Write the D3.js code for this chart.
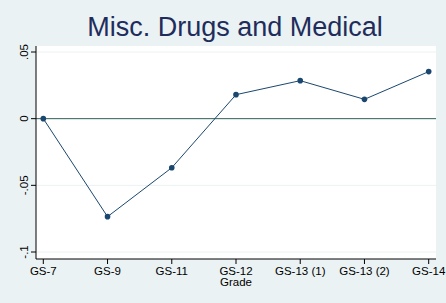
<!DOCTYPE html>
<html>
<head>
<meta charset="utf-8">
<script src="https://cdn.jsdelivr.net/npm/d3@7"></script>
<style>
  body { margin: 0; background: #eaf2f3; }
  svg { display: block; font-family: "Liberation Sans", Arial, sans-serif; }
</style>
</head>
<body>
<svg id="chart" width="446" height="303"></svg>
<script>
const grades = ["GS-7", "GS-9", "GS-11", "GS-12", "GS-13 (1)", "GS-13 (2)", "GS-14"];
const values = [0, -0.0735, -0.0368, 0.018, 0.0285, 0.0145, 0.0353];
const yTicks = [-0.1, -0.05, 0, 0.05];
const yTickLabels = ["-.1", "-.05", "0", ".05"];

const svg = d3.select("#chart");
const width = 446;
const height = 303;

// plot area (white box)
const box = { left: 36, right: 436, top: 46, bottom: 259 };

const x = d3.scaleLinear().domain([0, grades.length - 1]).range([43.3, 428.7]);
const y = d3.scaleLinear().domain([-0.1, 0.05]).range([252, 52]);

svg.append("rect")
  .attr("width", width)
  .attr("height", height)
  .attr("fill", "#eaf2f3");

svg.append("rect")
  .attr("x", box.left)
  .attr("y", box.top)
  .attr("width", box.right - box.left)
  .attr("height", box.bottom - box.top)
  .attr("fill", "#ffffff");

// gridlines
svg.append("g")
  .selectAll("line")
  .data(yTicks.filter((d) => d !== 0))
  .join("line")
  .attr("x1", box.left)
  .attr("x2", box.right)
  .attr("y1", (d) => y(d))
  .attr("y2", (d) => y(d))
  .attr("stroke", "#eaf2f3")
  .attr("stroke-width", 1);

// zero reference line
svg.append("line")
  .attr("x1", box.left)
  .attr("x2", box.right)
  .attr("y1", y(0))
  .attr("y2", y(0))
  .attr("stroke", "#2f5f5a")
  .attr("stroke-width", 1);

// title
svg.append("text")
  .attr("x", 235)
  .attr("y", 36)
  .attr("text-anchor", "middle")
  .attr("font-size", 27)
  .attr("fill", "#1e2d5c")
  .text("Misc. Drugs and Medical");

// y axis
const yAxis = svg.append("g");
yAxis.append("line")
  .attr("x1", box.left).attr("x2", box.left)
  .attr("y1", box.top).attr("y2", box.bottom)
  .attr("stroke", "#000").attr("stroke-width", 1);
yAxis.selectAll("line.tick")
  .data(yTicks)
  .join("line")
  .attr("class", "tick")
  .attr("x1", box.left - 5).attr("x2", box.left)
  .attr("y1", (d) => y(d)).attr("y2", (d) => y(d))
  .attr("stroke", "#000");
yAxis.selectAll("text")
  .data(yTicks)
  .join("text")
  .attr("transform", (d) => `translate(28,${y(d)}) rotate(-90)`)
  .attr("text-anchor", "middle")
  .attr("font-size", 11.5)
  .attr("fill", "#000")
  .text((d, i) => yTickLabels[i]);

// x axis
const xAxis = svg.append("g");
xAxis.append("line")
  .attr("x1", box.left).attr("x2", box.right)
  .attr("y1", box.bottom).attr("y2", box.bottom)
  .attr("stroke", "#000").attr("stroke-width", 1);
xAxis.selectAll("line.tick")
  .data(grades)
  .join("line")
  .attr("class", "tick")
  .attr("x1", (d, i) => x(i)).attr("x2", (d, i) => x(i))
  .attr("y1", box.bottom).attr("y2", box.bottom + 5)
  .attr("stroke", "#000");
xAxis.selectAll("text")
  .data(grades)
  .join("text")
  .attr("x", (d, i) => x(i))
  .attr("y", 275)
  .attr("text-anchor", "middle")
  .attr("font-size", 11.5)
  .attr("fill", "#000")
  .text((d) => d);

svg.append("text")
  .attr("x", x(3))
  .attr("y", 285.5)
  .attr("text-anchor", "middle")
  .attr("font-size", 11.5)
  .attr("fill", "#000")
  .text("Grade");

// series
const line = d3.line()
  .x((d, i) => x(i))
  .y((d) => y(d));

svg.append("path")
  .datum(values)
  .attr("d", line)
  .attr("fill", "none")
  .attr("stroke", "#1a476f")
  .attr("stroke-width", 1);

svg.append("g")
  .selectAll("circle")
  .data(values)
  .join("circle")
  .attr("cx", (d, i) => x(i))
  .attr("cy", (d) => y(d))
  .attr("r", 2.8)
  .attr("fill", "#1a476f");
</script>
</body>
</html>
